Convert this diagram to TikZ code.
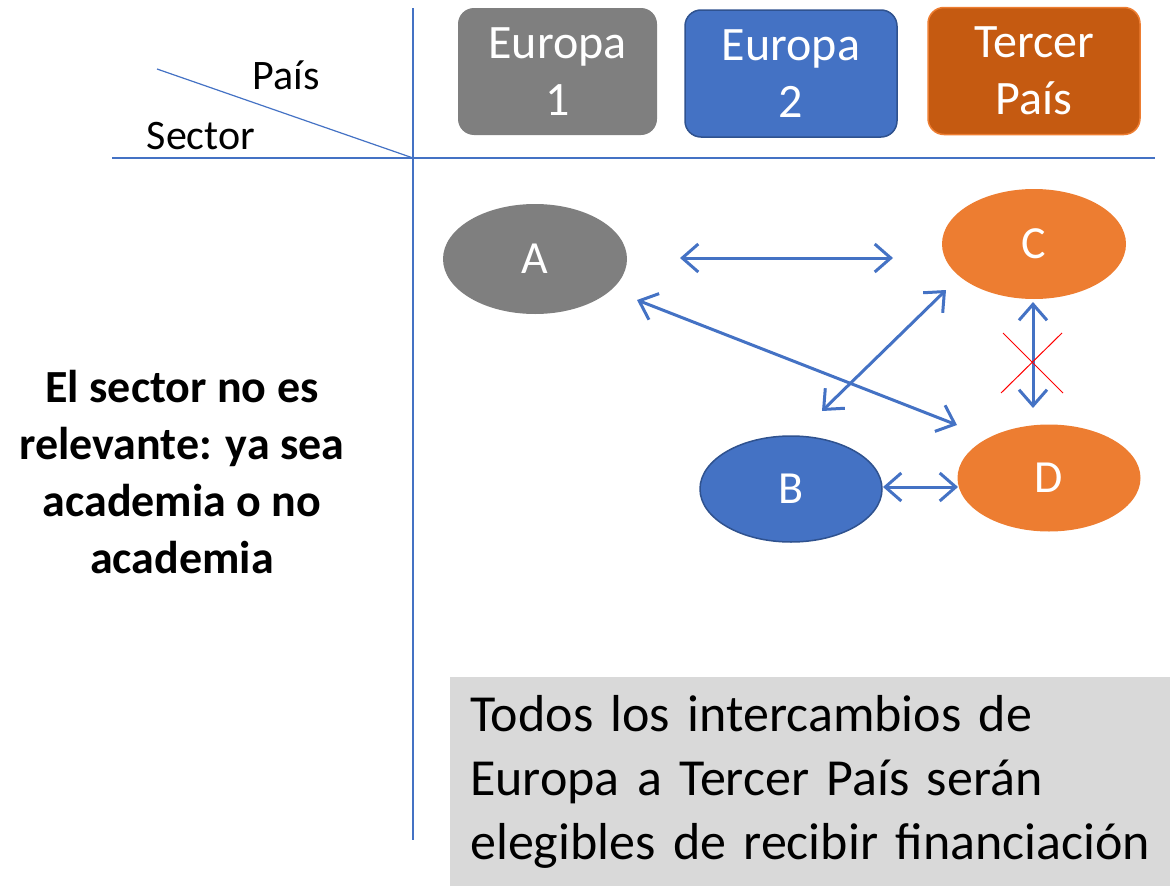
\documentclass[tikz,border=0pt]{standalone}
\usepackage{fontspec}
\setmainfont{Carlito}
\usetikzlibrary{arrows.meta,shapes.geometric}
\definecolor{cgrey}{HTML}{7F7F7F}
\definecolor{cblue}{HTML}{4472C4}
\definecolor{cblued}{HTML}{2F528F}
\definecolor{corange}{HTML}{ED7D31}
\definecolor{corangd}{HTML}{C55A11}
\definecolor{cpanel}{HTML}{D9D9D9}
\tikzset{
  hdr/.style={rounded corners=16pt, minimum width=#1, minimum height=127pt, inner sep=0pt, align=center, text=white, font=\fontsize{48}{57}\selectfont, line width=1.5pt},
  ell/.style={ellipse, minimum width=184pt, minimum height=110pt, inner sep=0pt, text=white, font=\fontsize{46}{50}\selectfont, line width=1.5pt},
  axis/.style={draw=cblue, line width=1.2pt},
  link/.style={draw=cblue, line width=3pt, {Straight Barb[length=16pt,width=28pt,line width=3pt]}-{Straight Barb[length=16pt,width=28pt,line width=3pt]}},
  cross/.style={draw=red, line width=1pt},
}
\begin{document}
\begin{tikzpicture}[x=1pt,y=-1pt]
\useasboundingbox (0,0) rectangle (1170,886);
% axes
\coordinate (vtop) at (413,8);
\coordinate (vbot) at (413,840);
\coordinate (hl) at (112,158);
\coordinate (hr) at (1155,158);
\coordinate (corner) at (413,158);
\coordinate (dstart) at (157,69);
\draw[axis] (vtop) -- (vbot);
\draw[axis] (hl) -- (hr);
\draw[axis] (dstart) -- (corner);
\node[font=\fontsize{42}{50}\selectfont, inner sep=0pt] (pais) at (286,75) {País};
\node[font=\fontsize{42}{50}\selectfont, inner sep=0pt] (sector) at (201,136) {Sector};
% headers
\node[hdr=199pt, fill=cgrey] (e1) at (557.5,71.5) {Europa\\1};
\node[hdr=212pt, fill=cblue, draw=cblued] (e2) at (791,73.5) {Europa\\2};
\node[hdr=212pt, fill=corangd, draw=corange] (tp) at (1034,71) {Tercer\\País};
% ellipses
\node[ell, fill=cgrey] (A) at (535,259) {A};
\node[ell, fill=corange] (C) at (1034,244) {C};
\node[ell, fill=cblue, draw=cblued, minimum width=182pt, minimum height=106pt] (B) at (791,489) {B};
\node[ell, fill=corange, minimum width=183pt, minimum height=107pt] (D) at (1049,478) {D};
% links
\coordinate (acL) at (680,258);
\coordinate (acR) at (893,258);
\draw[link] (acL) -- (acR);
\coordinate (adS) at (637,300);
\coordinate (adE) at (957,425);
\draw[link] (adS) -- (adE);
\coordinate (bcS) at (822,411);
\coordinate (bcE) at (946,290);
\draw[link] (bcS) -- (bcE);
\coordinate (cdS) at (1033,302);
\coordinate (cdE) at (1033,408);
\draw[link] (cdS) -- (cdE);
\coordinate (bdS) at (883,487);
\coordinate (bdE) at (958,487);
\draw[link] (bdS) -- (bdE);
% red cross
\coordinate (x1) at (1003,333);
\coordinate (x2) at (1063,393);
\coordinate (x3) at (1001,393);
\coordinate (x4) at (1062,333);
\draw[cross] (x1) -- (x2);
\draw[cross] (x3) -- (x4);
% left text
\node[font=\bfseries\fontsize{46}{57}\selectfont, align=center, inner sep=0pt] (left) at (182,472) {El sector no es\\relevante: ya sea\\academia o no\\academia};
% bottom panel
\node[fill=cpanel, anchor=north west, minimum width=720pt, minimum height=209pt, text width=700pt, inner xsep=20pt, inner ysep=0pt, align=left, font=\fontsize{52}{64}\selectfont] (panel) at (450,677) {Todos los intercambios de\\Europa a Tercer País serán\\elegibles de recibir financiación};
\end{tikzpicture}
\end{document}
